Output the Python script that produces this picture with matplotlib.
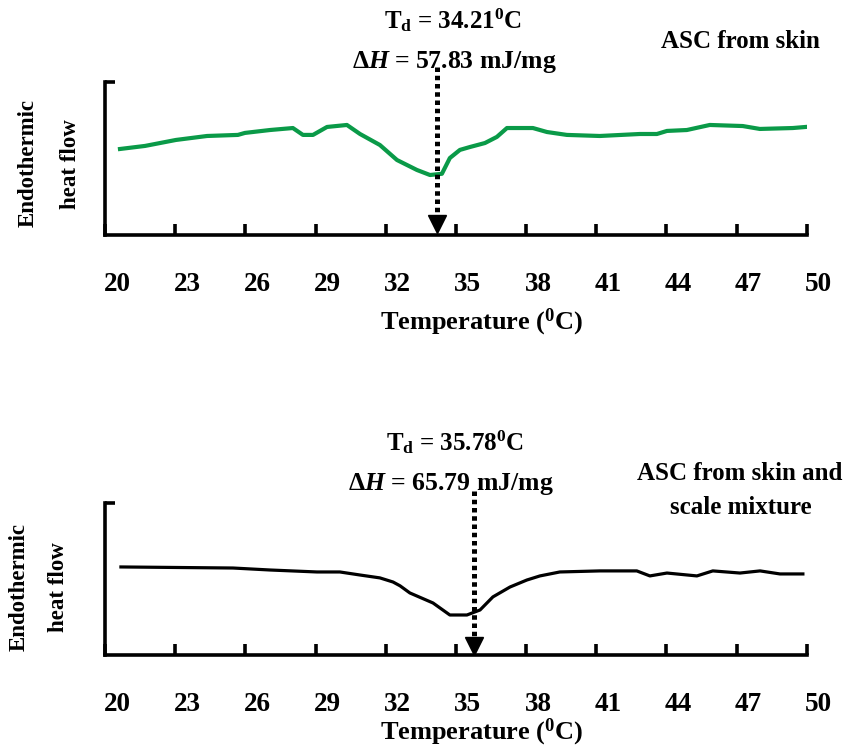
import matplotlib.pyplot as plt
from matplotlib.transforms import ScaledTranslation

plt.rcParams['font.family'] = 'Liberation Serif'
plt.rcParams['font.weight'] = 'bold'
plt.rcParams['mathtext.fontset'] = 'custom'
plt.rcParams['mathtext.rm'] = 'Liberation Serif:bold'
plt.rcParams['mathtext.it'] = 'Liberation Serif:italic:bold'
plt.rcParams['mathtext.bf'] = 'Liberation Serif:bold'

# DSC thermograms (temperature in C, heat flow in arbitrary units)
skin_temp = [20.64, 21.71, 23.03, 24.36, 25.68, 25.98, 27.05, 28.03, 28.46, 28.89,
             29.49, 30.34, 30.90, 31.75, 32.48, 33.33, 33.89, 34.40, 34.74, 35.17,
             35.60, 36.24, 36.75, 37.18, 37.74, 38.29, 38.89, 39.74, 41.15, 42.86,
             43.59, 44.02, 44.87, 45.85, 47.26, 47.99, 49.40, 49.95]
skin_flow = [5.62, 5.82, 6.21, 6.47, 6.54, 6.67, 6.86, 6.99, 6.54, 6.54,
             7.06, 7.19, 6.60, 5.88, 4.90, 4.25, 3.92, 4.00, 5.03, 5.56,
             5.75, 6.01, 6.41, 6.99, 6.99, 6.99, 6.73, 6.54, 6.47, 6.60,
             6.60, 6.80, 6.86, 7.19, 7.12, 6.93, 6.99, 7.06]

mix_temp = [20.68, 25.47, 27.05, 29.06, 30.04, 30.90, 31.75, 32.31, 32.61, 33.03,
            34.02, 34.74, 35.47, 36.03, 36.58, 37.31, 38.03, 38.59, 39.44, 41.15,
            42.73, 43.29, 44.02, 45.30, 45.98, 47.14, 48.00, 48.85, 49.83]
mix_flow = [5.79, 5.72, 5.59, 5.46, 5.46, 5.26, 5.07, 4.80, 4.55, 4.08,
            3.42, 2.63, 2.63, 2.96, 3.82, 4.47, 4.93, 5.20, 5.46, 5.53,
            5.53, 5.20, 5.39, 5.20, 5.53, 5.39, 5.53, 5.33, 5.33]

temp_ticks = [20, 23, 26, 29, 32, 35, 38, 41, 44, 47, 50]

skin_td, skin_dh = 34.21, 57.83
mix_td, mix_dh = 35.78, 65.79

fig = plt.figure(figsize=(8.58, 7.5), dpi=100)
ax1 = fig.add_axes([0.1224, 0.6867, 0.818, 0.204])
ax2 = fig.add_axes([0.1224, 0.1267, 0.818, 0.2027])


def setup(ax, label_y):
    ax.set_xlim(20, 50)
    ax.set_ylim(0, 10)
    for s in ['top', 'right']:
        ax.spines[s].set_visible(False)
    for s in ['left', 'bottom']:
        ax.spines[s].set_linewidth(2.6)
    ax.set_xticks(temp_ticks)
    ax.set_yticks([10])
    ax.set_yticklabels([])
    ax.tick_params(axis='x', direction='in', length=8, width=2.6, pad=27, labelsize=19.5)
    ax.tick_params(axis='y', direction='in', length=7, width=2.6)
    shift = ScaledTranslation(0.12, 0, fig.dpi_scale_trans)
    for lab in ax.get_xticklabels():
        lab.set_fontweight('bold')
        lab.set_transform(lab.get_transform() + shift)
    ax.set_xlabel(r'Temperature ($^{0}$C)', fontsize=19, fontweight='bold', va='center')
    ax.xaxis.set_label_coords(0.537, label_y)


def td_arrow(ax, td, y_top, y_tip):
    ax.plot([td, td], [y_top, y_tip + 0.6], color='black', lw=3.6,
            ls=(0, (0.9, 0.75)), clip_on=False, zorder=5)
    ax.plot(td, y_tip, marker='v', ms=13, color='black', clip_on=False, zorder=5)


setup(ax1, -0.569)
ax1.plot(skin_temp, skin_flow, color='#0a9a48', lw=3.0)
td_arrow(ax1, skin_td, 11.0, 0.75)

setup(ax2, -0.51)
ax2.plot(mix_temp, mix_flow, color='black', lw=2.3)
td_arrow(ax2, mix_td, 10.8, 0.6)

# y-axis captions
fig.text(28 / 858, 1 - 163 / 750, 'Endothermic', rotation=90, ha='center', va='center', fontsize=16.5)
fig.text(70 / 858, 1 - 164 / 750, 'heat flow', rotation=90, ha='center', va='center', fontsize=16.5)
fig.text(19 / 858, 1 - 587 / 750, 'Endothermic', rotation=90, ha='center', va='center', fontsize=16.5)
fig.text(59 / 858, 1 - 587 / 750, 'heat flow', rotation=90, ha='center', va='center', fontsize=16.5)

# denaturation annotations
fig.text(453 / 858, 1 - 20 / 750, r'T$_{\mathrm{d}}$ = %.2f$^{0}$C' % skin_td,
         ha='center', va='center', fontsize=18)
fig.text(454 / 858, 1 - 62 / 750, r'$\Delta\mathit{H}$ = %.2f mJ/mg' % skin_dh,
         ha='center', va='center', fontsize=18.5)
fig.text(740 / 858, 1 - 42 / 750, 'ASC from skin', ha='center', va='center', fontsize=18)

fig.text(455 / 858, 1 - 442 / 750, r'T$_{\mathrm{d}}$ = %.2f$^{0}$C' % mix_td,
         ha='center', va='center', fontsize=18)
fig.text(451 / 858, 1 - 484 / 750, r'$\Delta\mathit{H}$ = %.2f mJ/mg' % mix_dh,
         ha='center', va='center', fontsize=18.5)
fig.text(740 / 858, 1 - 474 / 750, 'ASC from skin and', ha='center', va='center', fontsize=18)
fig.text(741 / 858, 1 - 508 / 750, 'scale mixture', ha='center', va='center', fontsize=18)

fig.savefig('out.png', dpi=100)
